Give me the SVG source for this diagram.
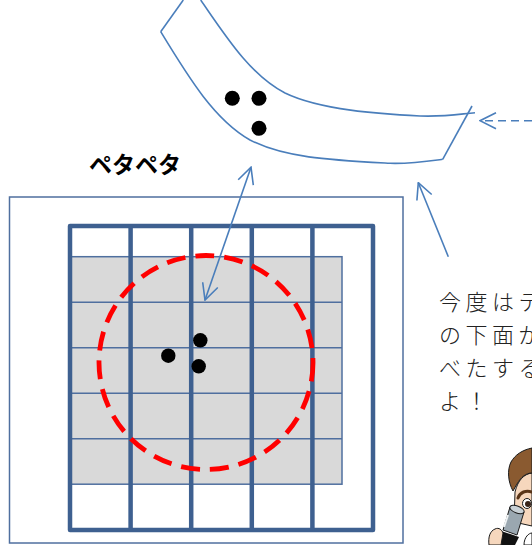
<svg xmlns="http://www.w3.org/2000/svg" width="532" height="545" viewBox="0 0 532 545">
  <style>
    .band { fill: none; stroke: #4a7ebb; stroke-width: 1.6; }
    .arrow { fill: none; stroke: #4a7ebb; stroke-width: 1.6; }
    .frame { fill: #ffffff; stroke: #4f6f9f; stroke-width: 1.5; }
    .thin { stroke: #4f6f9f; stroke-width: 1.5; fill: none; }
    .thick { stroke: #3e6090; stroke-width: 4.5; fill: none; stroke-linejoin: round; }
    .dot { fill: #000000; }
    .label { font-family: "Noto Sans CJK JP", "Noto Sans", sans-serif; font-weight: 700; font-size: 23px; fill: #000000; }
    .speech { font-family: "Noto Sans CJK JP", "Noto Sans", sans-serif; font-weight: 300; font-size: 22px; letter-spacing: 4.5px; fill: #222222; }
    .ink { stroke: #1a1a1a; stroke-width: 1; stroke-linejoin: round; }
  </style>
  <defs>
    <marker id="open" viewBox="0 0 18 18" refX="17" refY="9" markerWidth="18" markerHeight="18" markerUnits="userSpaceOnUse" orient="auto-start-reverse">
      <path d="M1,1 L17,9 L1,17" fill="none" stroke="#4a7ebb" stroke-width="1.6" stroke-linejoin="miter"/>
    </marker>
  </defs>

  <rect width="532" height="545" fill="#ffffff"/>

  <!-- tape strip bent upward, with three particles on it -->
  <g id="tape">
    <path class="band" d="M183.3,0 L160.7,31.7"/>
    <path class="band" d="M200.7,0 C225,35 250,75 285,93 C320,110 380,114 420,116 C445,117 460,114 475,112.7"/>
    <path class="band" d="M160.7,31.7 C190,80 215,120 250,140 C285,158 330,160 390,163.3 C410,164 430,161 442.7,159.3"/>
    <path class="band" d="M442.7,159.3 L472,106"/>
    <circle class="dot" cx="232.3" cy="98.3" r="7.5"/>
    <circle class="dot" cx="259" cy="98.3" r="7.5"/>
    <circle class="dot" cx="259" cy="128.3" r="7.5"/>
  </g>

  <g id="label-petapeta">
    <text class="label" x="89" y="173">ペタペタ</text>
  </g>

  <!-- specimen frame with grid and sampled area -->
  <g id="specimen">
    <rect class="frame" x="9.5" y="197" width="393.5" height="346"/>
    <rect x="70" y="256.7" width="272" height="227.5" fill="#d9d9d9" stroke="#4f6f9f" stroke-width="1.5"/>
    <path class="thin" d="M70,302.2 H342 M70,347.7 H342 M70,393.2 H342 M70,438.7 H342"/>
    <rect class="thick" x="70" y="226" width="303" height="304"/>
    <path class="thick" d="M130.6,226 V530 M191.2,226 V530 M251.8,226 V530 M312.4,226 V530"/>
    <circle cx="206" cy="362.5" r="107" fill="none" stroke="#ff0000" stroke-width="4.8" stroke-dasharray="19 10"/>
    <circle class="dot" cx="168.3" cy="355.7" r="7.2"/>
    <circle class="dot" cx="200.3" cy="340.3" r="7.2"/>
    <circle class="dot" cx="198.7" cy="366.3" r="7.2"/>
  </g>

  <!-- speech text -->
  <g id="speech">
    <text class="speech" x="439" y="310">今度はテ</text>
    <text class="speech" x="439" y="343">の下面が</text>
    <text class="speech" x="439" y="376">べたする</text>
    <text class="speech" x="439" y="409">よ！</text>
  </g>

  <!-- observer looking through a microscope -->
  <g id="observer">
    <path d="M532,473 C524,474 518,480 515,492 L514,522 L532,526 Z" fill="#f6d7bd" class="ink"/>
    <path d="M513,491 C508,482 507,470 511,462 C515,455 522,450 532,448 L532,473 C526,473 521,477 517,484 Z" fill="#8a5a30" class="ink"/>
    <path d="M518,498 C520,492 526,490 532,492" fill="none" stroke="#5a3518" stroke-width="3" stroke-linecap="round"/>
    <ellipse cx="527" cy="503.5" rx="4.5" ry="5" fill="#ffffff" class="ink"/>
    <circle cx="528" cy="504" r="3" fill="#3a2418"/>
    <path d="M524,545 C524,537 529,533 532,533 L532,545 Z" fill="#ffffff" class="ink"/>
    <path d="M510,507 L524,512 L517,535 L503,530 Z" fill="#9aa7b0" class="ink"/>
    <ellipse cx="517" cy="509.5" rx="7.5" ry="3.5" transform="rotate(20 517 509.5)" fill="#c9d1d6" class="ink"/>
    <path d="M508,515 L504,527" stroke="#eef2f4" stroke-width="2"/>
    <path d="M501,531 L519,537 L515,545 L497,545 Z" fill="#111111"/>
    <path d="M489,545 C488,537 490,531 495,529 C499,527 502,530 503,533 L501,545 Z" fill="#f6d7bd" class="ink"/>
  </g>

  <g id="connectors">
    <line class="arrow" x1="205" y1="300" x2="251" y2="167.3" marker-start="url(#open)" marker-end="url(#open)"/>
    <line class="arrow" x1="448.3" y1="256.7" x2="418.3" y2="182.7" marker-end="url(#open)"/>
    <line class="arrow" x1="532" y1="120.7" x2="480" y2="120.7" stroke-width="2" stroke-dasharray="8 5" marker-end="url(#open)"/>
  </g>
</svg>
